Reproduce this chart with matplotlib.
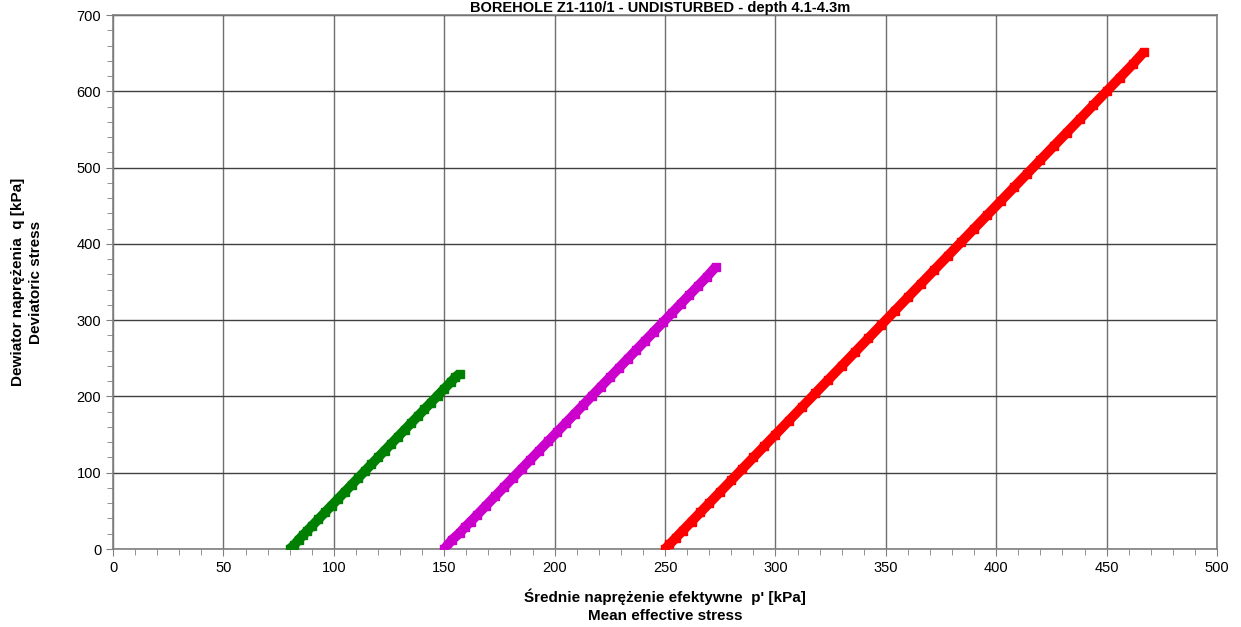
import matplotlib
matplotlib.use("Agg")
import matplotlib.pyplot as plt
from matplotlib.ticker import MultipleLocator

plt.rcParams['font.family'] = ['Liberation Sans', 'DejaVu Sans']

# stress paths: p' [kPa], q [kPa]
p_green = [80, 82, 84, 86, 88, 90, 93, 96, 99, 102, 105, 108, 111, 114, 117,
           120, 123, 126, 129, 132, 135, 138, 141, 144, 147, 150, 153, 155, 157]
q_green = [0, 5, 12, 18, 24, 30, 39, 48, 57, 66, 75, 84, 93, 102, 111,
           120, 129, 138, 147, 156, 165, 174, 183, 192, 201, 210, 219, 225, 230]

p_magenta = [150, 153.5, 157, 159.5, 162, 165, 169, 173, 177, 181, 185, 189, 193,
             197, 201, 205, 209, 213, 217, 221, 225, 229, 233, 237, 241, 245,
             249, 253, 257, 261, 265, 269, 273]
q_magenta = [0, 12, 21, 29, 36, 45, 57, 69, 81, 93, 105, 117, 129,
             141, 153, 165, 177, 189, 201, 213, 225, 237, 249, 261, 273, 285,
             297, 309, 321, 333, 345, 357, 370]

p_red = [250, 252, 255, 258, 262, 266, 270, 275, 280, 285, 290, 295, 300, 306,
         312, 318, 324, 330, 336, 342, 348, 354, 360, 366, 372, 378, 384, 390,
         396, 402, 408, 414, 420, 426, 432, 438, 444, 450, 456, 462, 467]
q_red = [0, 6, 15, 24, 36, 48, 60, 75, 90, 105, 120, 135, 150, 168,
         186, 204, 222, 240, 258, 276, 294, 312, 330, 348, 366, 384, 402, 420,
         438, 456, 474, 492, 510, 528, 546, 564, 582, 600, 618, 636, 652]

series = [(p_green, q_green, '#008000'),
          (p_magenta, q_magenta, '#CC00CC'),
          (p_red, q_red, '#FF0000')]

fig = plt.figure(figsize=(12.41, 6.27), dpi=100)
ax = fig.add_axes([0.0911, 0.1244, 0.8896, 0.8516])

for p, q, c in series:
    ax.plot(p, q, color=c, lw=7, solid_capstyle='butt', zorder=3)
    ax.plot(p, q, ls='none', marker='s', ms=5.5, color=c, mec=c, zorder=4)

ax.set_xlim(0, 500)
ax.set_ylim(0, 700)
ax.xaxis.set_major_locator(MultipleLocator(50))
ax.xaxis.set_minor_locator(MultipleLocator(10))
ax.yaxis.set_major_locator(MultipleLocator(100))
ax.yaxis.set_minor_locator(MultipleLocator(20))

ax.grid(True, which='major', axis='x', color='#707070', lw=1.0)
ax.grid(True, which='major', axis='y', color='#404040', lw=1.0)
ax.set_axisbelow(True)
for s in ax.spines.values():
    s.set_color('#808080')
    s.set_linewidth(1.2)

ax.tick_params(which='major', direction='out', length=5, color='#808080', labelsize=10.5)
ax.tick_params(which='minor', direction='out', length=4, color='#808080')

ax.set_xlabel("Średnie naprężenie efektywne  p' [kPa]\nMean effective stress",
              fontsize=11, fontweight='bold', labelpad=10, linespacing=1.35)
ax.set_ylabel("Dewiator naprężenia  q [kPa]\nDeviatoric stress",
              fontsize=11, fontweight='bold', labelpad=24, linespacing=1.35)

fig.text(0.532, 1 - 12 / 627, "BOREHOLE Z1-110/1 - UNDISTURBED - depth 4.1-4.3m",
         ha='center', va='baseline', fontsize=10.5, fontweight='bold')

fig.savefig('out.png', dpi=100)
